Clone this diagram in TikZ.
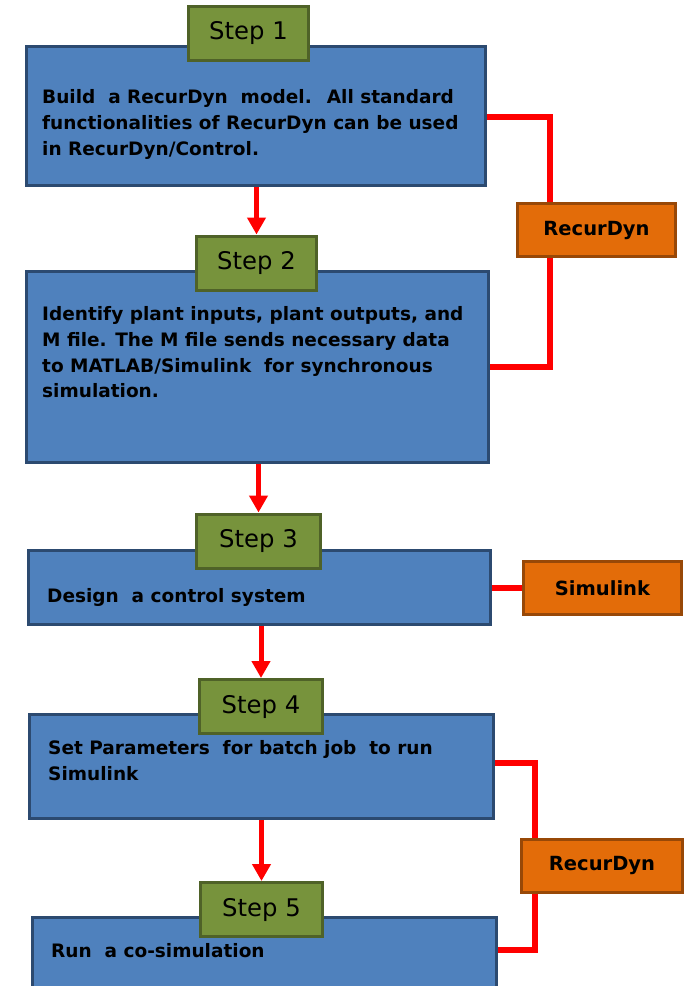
\documentclass[tikz,border=0pt]{standalone}
\usepackage{fontspec}
\setmainfont{DejaVu Sans}
\usetikzlibrary{arrows.meta}
\definecolor{bluefill}{HTML}{4F81BD}
\definecolor{blueedge}{HTML}{2C4A70}
\definecolor{greenfill}{HTML}{77933C}
\definecolor{greenedge}{HTML}{4F6228}
\definecolor{orangefill}{HTML}{E36C09}
\definecolor{orangeedge}{HTML}{984807}
\definecolor{linkred}{HTML}{FF0000}
\begin{document}
\begin{tikzpicture}[x=1pt,y=-1pt,
  bluebox/.style={draw=blueedge,fill=bluefill,line width=3pt,inner sep=0pt},
  stepbox/.style={draw=greenedge,fill=greenfill,line width=3pt,inner sep=0pt,minimum width=120pt,minimum height=54pt,font=\fontsize{24.3}{27}\selectfont},
  toolbox/.style={draw=orangeedge,fill=orangefill,line width=3pt,inner sep=0pt,minimum width=158pt,minimum height=53pt,font=\fontsize{19.5}{24}\selectfont\bfseries},
  txt/.style={anchor=north west,inner sep=0pt,align=left,font=\fontsize{18.5}{25.7}\selectfont\bfseries},
  redline/.style={draw=linkred,line width=6pt},
  redarrow/.style={draw=linkred,line width=5pt,-{Triangle[width=18pt,length=17pt]}}
]
\useasboundingbox (0,0) rectangle (685,986);

% blue boxes
\node[bluebox,minimum width=459pt,minimum height=139pt] (b1) at (256,116) {};
\node[bluebox,minimum width=462pt,minimum height=191pt] (b2) at (257.5,367) {};
\node[bluebox,minimum width=462pt,minimum height=74pt] (b3) at (259.5,587.5) {};
\node[bluebox,minimum width=464pt,minimum height=104pt] (b4) at (261.5,766.5) {};
\node[bluebox,minimum width=464pt,minimum height=91pt] (b5) at (264.5,963) {};

% texts
\node[txt] (t1) at (42,89.5) {Build~ a RecurDyn~ model.~ All standard\\functionalities of RecurDyn can be used\\in RecurDyn/Control.};
\node[txt] (t2) at (42,306.5) {Identify plant inputs, plant outputs, and\\M file. The M file sends necessary data\\to MATLAB/Simulink~ for synchronous\\simulation.};
\node[txt] (t3) at (47,588.5) {Design~ a control system};
\node[txt] (t4) at (48,740.5) {Set Parameters~ for batch job~ to run\\Simulink};
\node[txt] (t5) at (51,943.5) {Run~ a co-simulation};

% step boxes
\node[stepbox] (g1) at (248.5,33.5) {Step 1};
\node[stepbox] (g2) at (256.5,263) {Step 2};
\node[stepbox,minimum width=124pt] (g3) at (258.5,541) {Step 3};
\node[stepbox,minimum width=123pt] (g4) at (261,706.5) {Step 4};
\node[stepbox,minimum width=122pt] (g5) at (261.5,909.5) {Step 5};

% tool boxes
\node[toolbox] (o1) at (596.5,230) {RecurDyn};
\node[toolbox] (o2) at (602.5,588) {Simulink};
\node[toolbox,minimum width=161pt] (o3) at (602,865.5) {RecurDyn};

% junction coordinates
\coordinate (j1) at (550,117);
\coordinate (j2) at (550,367);
\coordinate (j4) at (535,763);
\coordinate (j5) at (535,950);

% red connectors
\draw[redline] (b1.east |- j1) -- (j1) -- (j1 |- o1.north);
\draw[redline] (j2 |- o1.south) -- (j2) -- (b2.east |- j2);
\draw[redline] (b3.east |- o2.west) -- (o2.west);
\draw[redline] (b4.east |- j4) -- (j4) -- (j4 |- o3.north);
\draw[redline] (j5 |- o3.south) -- (j5) -- (b5.east |- j5);

% arrows
\draw[redarrow] (b1.south -| g2.north) -- (g2.north);
\draw[redarrow] (b2.south -| g3.north) -- (g3.north);
\draw[redarrow] (b3.south -| g4.north) -- (g4.north);
\draw[redarrow] (b4.south -| g5.north) -- (g5.north);
\end{tikzpicture}
\end{document}
